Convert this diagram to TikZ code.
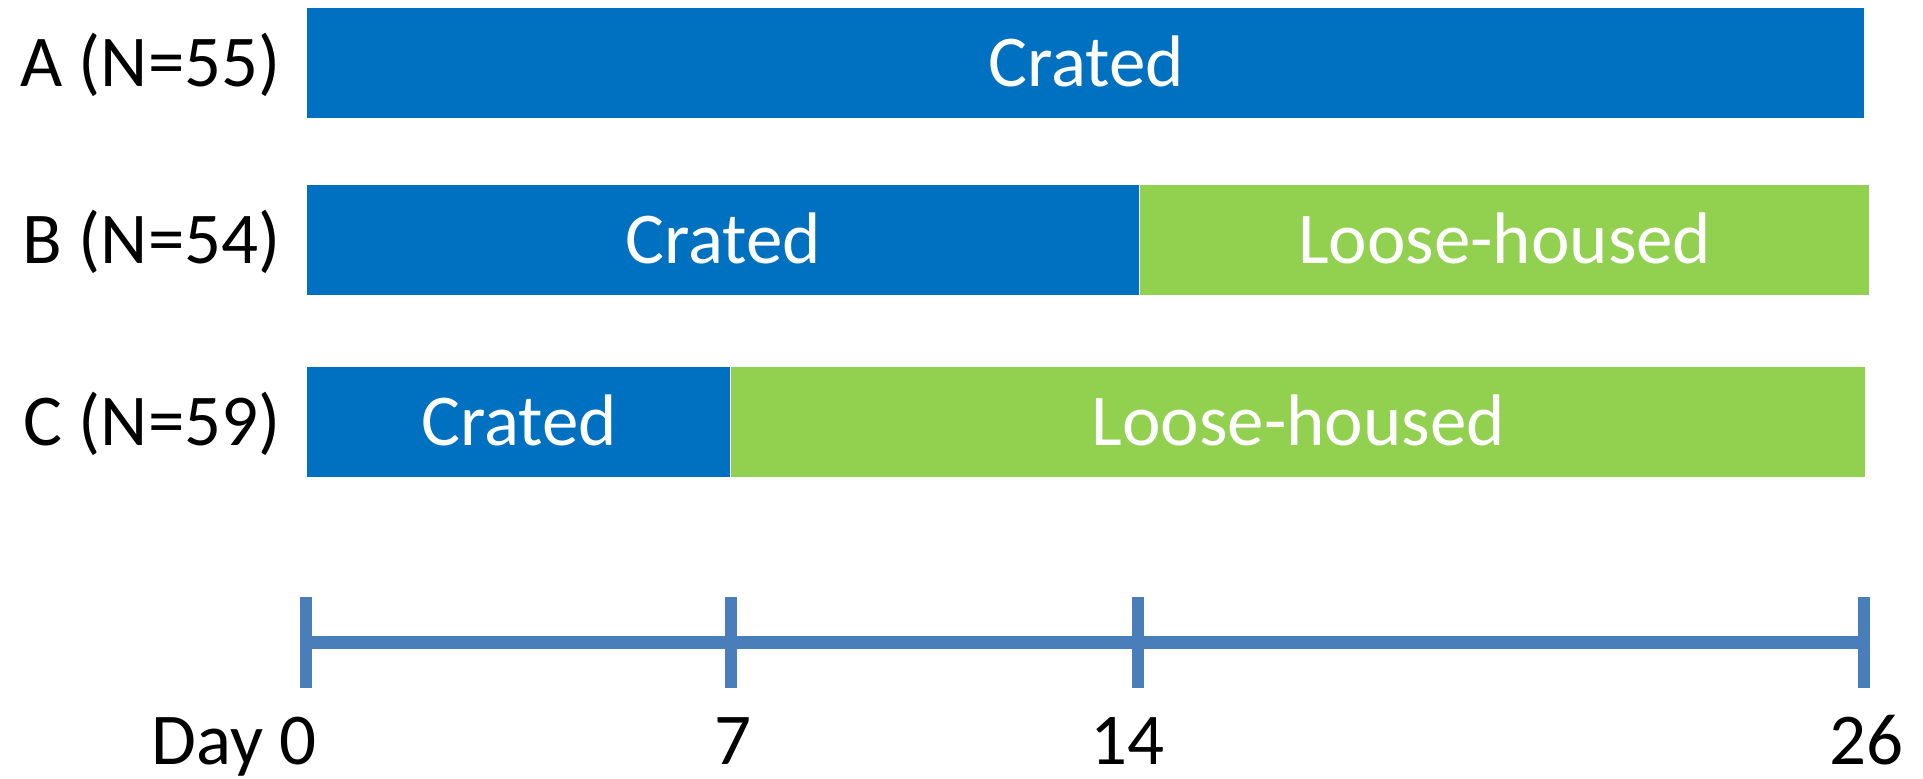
\documentclass[tikz,border=0pt]{standalone}
\usepackage{fontspec}
\setmainfont{Carlito}
\usetikzlibrary{positioning}

\definecolor{crateblue}{RGB}{0,112,192}
\definecolor{loosegreen}{RGB}{146,208,80}
\definecolor{axisblue}{RGB}{74,126,187}

\tikzset{
  txt/.style={inner sep=0pt,font=\fontsize{36.5}{44}\selectfont},
  grp/.style={txt,anchor=east,text height=23.5pt,text depth=0pt},
  crated/.style={txt,fill=crateblue,text=white,anchor=west,minimum height=55pt,
    text height=23.5pt,text depth=0pt},
  loose/.style={crated,fill=loosegreen},
  daylbl/.style={txt,anchor=base},
}

\begin{document}
\begin{tikzpicture}[x=0.5pt,y=-0.5pt]
\useasboundingbox (0,0) rectangle (1923,779);

% pens
\node[crated,minimum width=778.5pt] (barA) at (307,63) {Crated};
\node[crated,minimum width=416pt] (barB1) at (307,240) {Crated};
\node[loose,minimum width=364.5pt] (barB2) at (barB1.east) {Loose-housed};
\node[crated,minimum width=211.5pt] (barC1) at (307,422) {Crated};
\node[loose,minimum width=567pt] (barC2) at (barC1.east) {Loose-housed};

\node[grp,left=13pt of barA] (grpA) {A (N=55)};
\node[grp,left=13pt of barB1] (grpB) {B (N=54)};
\node[grp,left=13pt of barC1] (grpC) {C (N=59)};

% time line
\foreach \d/\x in {0/306,7/731,14/1138,26/1864}
  \coordinate (t\d) at (\x,643);
\draw[axisblue,line width=6.5pt] (t0) -- (t26);
\foreach \d in {0,7,14,26}
  \draw[axisblue,line width=6pt] ([yshift=22.75pt]t\d) -- ([yshift=-22.75pt]t\d);

\node[txt,anchor=base east] (day0) at (317,765) {Day 0};
\node[daylbl] (day7) at (733,765) {7};
\node[daylbl] (day14) at (1127,765) {14};
\node[daylbl] (day26) at (1866,765) {26};
\end{tikzpicture}
\end{document}
